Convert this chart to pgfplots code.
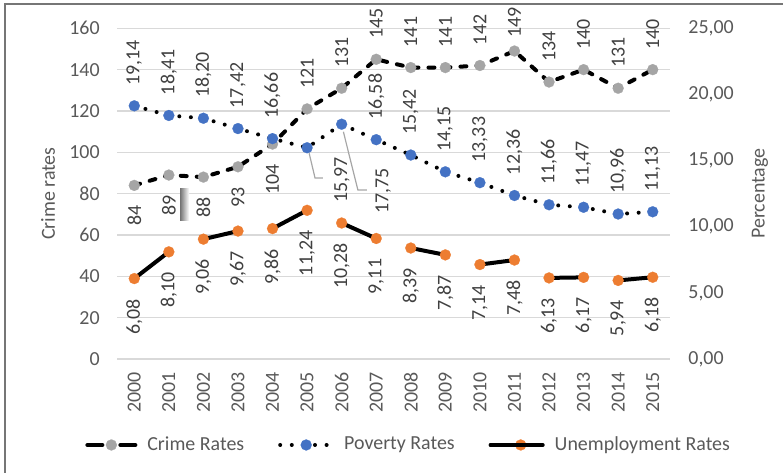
\documentclass[border=0pt]{standalone}
\usepackage{pgfplots}
\pgfplotsset{compat=1.18}
\usepackage{pgfplotstable}
\usepackage{fontspec}
\setmainfont{Carlito}
\definecolor{tickgray}{HTML}{595959}
\definecolor{labgray}{HTML}{404040}
\definecolor{gridgray}{HTML}{D9D9D9}
\definecolor{crimegray}{HTML}{A5A5A5}
\definecolor{povblue}{HTML}{4472C4}
\definecolor{unorange}{HTML}{ED7D31}
\definecolor{framegray}{HTML}{767676}
\newcommand\lf{\fontsize{10}{12}\selectfont}

\pgfplotstableread{
x crime pov clab plab
0 84 19.14 84 19,14
1 89 18.41 89 18,41
2 88 18.20 88 18,20
3 93 17.42 93 17,42
4 104 16.66 104 16,66
5 121 15.97 121 15,97
6 131 17.75 131 17,75
7 145 16.58 145 16,58
8 141 15.42 141 15,42
9 141 14.15 141 14,15
10 142 13.33 142 13,33
11 149 12.36 149 12,36
12 134 11.66 134 11,66
13 140 11.47 140 11,47
14 131 10.96 131 10,96
15 140 11.13 140 11,13
}\data

\pgfplotstableread{
x y ulab
0 6.08 6,08
1 8.10 8,10
1.5 nan x
2 9.06 9,06
3 9.67 9,67
3.5 nan x
4 9.86 9,86
5 11.24 11,24
5.5 nan x
6 10.28 10,28
7 9.11 9,11
7.5 nan x
8 8.39 8,39
9 7.87 7,87
9.5 nan x
10 7.14 7,14
11 7.48 7,48
11.5 nan x
12 6.13 6,13
13 6.17 6,17
13.5 nan x
14 5.94 5,94
15 6.18 6,18
}\unemp

\pgfplotsset{
  crimestyle/.style={black, line width=2bp, line cap=round, dash pattern=on 3bp off 5bp,
    mark=*, mark size=2.75bp, mark options={solid, fill=crimegray, draw=crimegray, line width=0.1bp}},
  povstyle/.style={black, line width=2bp, line cap=round, dash pattern=on 0bp off 5.8bp,
    mark=*, mark size=2.75bp, mark options={solid, fill=povblue, draw=povblue, line width=0.1bp}},
  unstyle/.style={black, line width=2bp, line cap=round, solid, unbounded coords=jump,
    mark=*, mark size=2.75bp, mark options={solid, fill=unorange, draw=unorange, line width=0.1bp}},
  labbelow/.style={draw=none, no marks, forget plot, nodes near coords, point meta=explicit symbolic,
    every node near coord/.append style={yshift=-10bp, rotate=90, anchor=east, inner sep=0pt, font=\lf, text=labgray}},
  lababove/.style={draw=none, no marks, forget plot, nodes near coords, point meta=explicit symbolic,
    every node near coord/.append style={yshift=#1, rotate=90, anchor=west, inner sep=0pt, font=\lf, text=labgray}},
  lababove/.default=10bp,
  common/.style={at={(58.5bp,57bp)}, anchor=south west, scale only axis,
    width=276.5bp, height=165.35bp, xmin=-0.5, xmax=15.5, clip=false,
    axis line style={draw=none}, major tick length=0pt,
    tick label style={font=\lf, text=tickgray},
    /pgf/number format/assume math mode=true},
}

\begin{document}
\begin{tikzpicture}
\useasboundingbox (0,0) rectangle (391.5bp,236.5bp);
\draw[framegray, line width=1bp] (2.5bp,0) -- (2.5bp,234.25bp) -- (391.5bp,234.25bp);

\begin{axis}[common,
  ymin=0, ymax=160, ytick={0,20,...,160},
  ymajorgrids, grid style={gridgray, line width=0.75bp},
  xtick={0,...,15},
  xticklabels={2000,2001,2002,2003,2004,2005,2006,2007,2008,2009,2010,2011,2012,2013,2014,2015},
  xticklabel style={yshift=-6.5bp, rotate=90, anchor=east, inner sep=0pt},
  yticklabel style={xshift=-8.5bp, anchor=east, inner sep=0pt},
  ylabel={Crime rates},
  every axis y label/.style={at={(axis description cs:-0.1248,0.5)}, rotate=90, anchor=center, font=\lf, text=tickgray},
]
\addplot[crimestyle] table[x=x, y=crime] {\data};
\addplot[labbelow, restrict x to domain=0:4] table[x=x, y=crime, meta=clab] {\data};
\addplot[lababove, restrict x to domain=5:10] table[x=x, y=crime, meta=clab] {\data};
\addplot[lababove=6.5bp, restrict x to domain=11:11] table[x=x, y=crime, meta=clab] {\data};
\addplot[lababove, restrict x to domain=12:15] table[x=x, y=crime, meta=clab] {\data};
\end{axis}

\shade[left color=black!55, right color=white] (90bp,126bp) rectangle (94.5bp,142bp);

\begin{axis}[common,
  ymin=0, ymax=25, ytick={0,5,...,25},
  axis x line=none, axis y line*=right,
  yticklabel style={xshift=9bp, anchor=west, inner sep=0pt,
    /pgf/number format/.cd, fixed, fixed zerofill, precision=2, use comma},
  ylabel={Percentage},
  every axis y label/.style={at={(axis description cs:1.1627,0.5)}, rotate=90, anchor=center, font=\lf, text=tickgray},
  legend columns=3,
  legend style={at={(-0.0579,-0.26)}, anchor=west, draw=none, fill=none, inner sep=0pt,
    font=\lf, text=tickgray, nodes={inner sep=0pt},
    /tikz/every odd column/.append style={column sep=5bp},
    /tikz/every even column/.append style={column sep=17bp}},
]
\addlegendimage{crimestyle, legend image code/.code={
  \draw[solid, line cap=round] (1bp,0bp) -- (8.5bp,0bp) (17.5bp,0bp) -- (25bp,0bp);
  \draw plot coordinates {(13bp,0bp)};}}
\addlegendentry{Crime Rates}
\addplot[povstyle, legend image code/.code={
  \draw[mark repeat=2, mark phase=2] plot coordinates {(0bp,0bp) (13bp,0bp) (26bp,0bp)};}]
  table[x=x, y=pov] {\data};
\addlegendentry{Poverty Rates}
\addplot[unstyle, legend image code/.code={
  \draw (0bp,0bp) -- (19bp,0bp);
  \draw plot coordinates {(15bp,0bp)};
  \path (0bp,0bp) -- (26bp,0bp);}]
  table[x=x, y=y] {\unemp};
\addlegendentry{Unemployment Rates}
\addplot[lababove, restrict x to domain=0:4] table[x=x, y=pov, meta=plab] {\data};
\addplot[lababove, restrict x to domain=7:15] table[x=x, y=pov, meta=plab] {\data};
\addplot[labbelow] table[x=x, y=y, meta=ulab] {\unemp};
\draw[gray!70, line width=0.6bp] (axis cs:5.06,15.55) -- (axis cs:5.23,13.68) -- (axis cs:5.46,13.68);
\draw[gray!70, line width=0.6bp] (axis cs:6.05,17.18) -- (axis cs:6.47,12.77) -- (axis cs:6.73,12.77);
\node[rotate=90, anchor=east, inner sep=0pt, font=\lf, text=labgray] at (axis cs:6.01,15.27) {15,97};
\node[rotate=90, anchor=east, inner sep=0pt, font=\lf, text=labgray] at (axis cs:7.20,14.44) {17,75};
\end{axis}
\end{tikzpicture}
\end{document}
